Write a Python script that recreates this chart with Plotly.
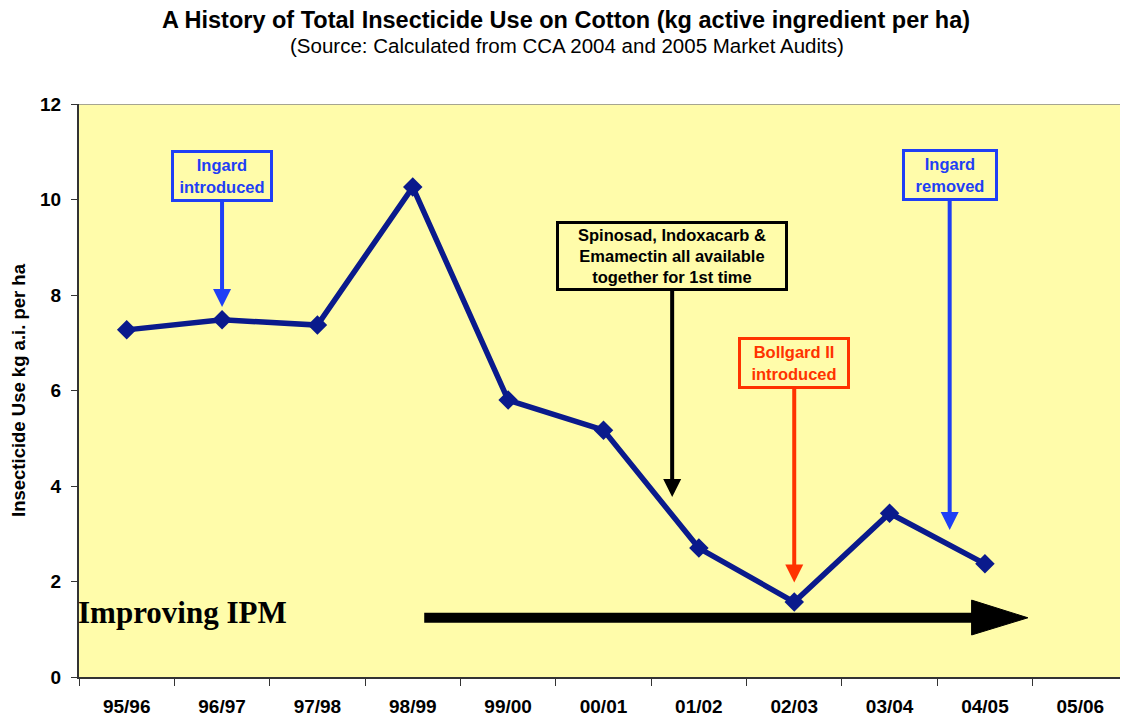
import plotly.graph_objects as go

# seasons and total insecticide use (kg a.i. per ha)
seasons = ['95/96', '96/97', '97/98', '98/99', '99/00', '00/01',
           '01/02', '02/03', '03/04', '04/05', '05/06']
use_kg_ha = [7.27, 7.48, 7.37, 10.26, 5.80, 5.17, 2.70, 1.57, 3.43, 2.37]

YELLOW = '#FFFCAA'
NAVY = '#0A1A8C'
BLUE = '#1F3FF5'
RED = '#FF3300'
FONT = 'Liberation Sans, Arial, sans-serif'

# page body has an 8px margin, so the figure is drawn 8px smaller
W, H = 1120, 711

fig = go.Figure()

fig.add_trace(go.Scatter(
    x=seasons[:len(use_kg_ha)], y=use_kg_ha,
    mode='lines+markers',
    line=dict(color=NAVY, width=5.5),
    marker=dict(symbol='diamond', size=15, color=NAVY),
    showlegend=False,
))

# event call-outs: (text, x index, box centre y, arrow tip y, colour, width, height)
callouts = [
    ('<b>Ingard<br>introduced</b>', 1.0, 10.49, 7.75, BLUE, 94, 44),
    ('<b>Spinosad, Indoxacarb &amp;<br>Emamectin all available<br>together for 1st time</b>',
     5.72, 8.82, 3.77, 'black', 224, 62),
    ('<b>Bollgard II<br>introduced</b>', 7.0, 6.57, 1.98, RED, 104, 44),
    ('<b>Ingard<br>removed</b>', 8.63, 10.51, 3.08, BLUE, 88, 44),
]
for text, xi, yb, yt, col, w, h in callouts:
    fig.add_annotation(
        x=xi, y=yt, ax=xi, ay=yb, xref='x', yref='y', axref='x', ayref='y',
        text=text, showarrow=True, arrowhead=2, arrowsize=0.9, arrowwidth=4,
        arrowcolor=col, font=dict(family=FONT, size=16.5, color=col),
        bgcolor=YELLOW, bordercolor=col, borderwidth=3, borderpad=1,
        width=w, height=h, align='center',
    )

# "Improving IPM" arrow
fig.add_shape(type='line', x0=3.12, x1=8.9, y0=1.24, y1=1.24,
              line=dict(color='black', width=10))
fig.add_shape(type='path', path='M 8.86 1.61 L 9.45 1.24 L 8.86 0.88 Z',
              fillcolor='black', line=dict(color='black', width=1))
fig.add_annotation(x=0, y=1.36, xref='paper', yref='y', xanchor='left', yanchor='middle',
                   xshift=-3, text='<b>Improving IPM</b>', showarrow=False,
                   font=dict(family='Liberation Serif, Times New Roman, serif', size=31,
                             color='black'))

# plot-area top border
fig.add_shape(type='line', xref='paper', x0=0, x1=1, yref='y', y0=12, y1=12,
              line=dict(color='#888888', width=1.5))

fig.add_annotation(x=(567 - 79) / 1049, y=1 + (104 - 45) / 573, xref='paper', yref='paper',
                   xanchor='center', yanchor='middle', showarrow=False,
                   text='(Source: Calculated from CCA 2004 and 2005 Market Audits)',
                   font=dict(family=FONT, size=20.5, color='black'))

fig.update_layout(
    width=W, height=H,
    margin=dict(l=71, r=0, t=96, b=42),
    paper_bgcolor='white', plot_bgcolor=YELLOW,
    title=dict(text='<b>A History of Total Insecticide Use on Cotton (kg active ingredient per ha)</b>',
               x=(566 - 8) / W, xref='container', xanchor='center',
               y=1 - 12 / H, yref='container', yanchor='middle',
               font=dict(family=FONT, size=23.5, color='black')),
    font=dict(family=FONT, color='black'),
)

fig.update_xaxes(
    type='category', categoryorder='array', categoryarray=seasons,
    range=[-0.5, 10.5], tickson='boundaries', ticks='outside', ticklen=7,
    tickcolor='#333333', showline=True, linecolor='#333333', linewidth=2,
    showgrid=False, zeroline=False, ticklabelstandoff=11, automargin=False,
    tickfont=dict(family=FONT, size=19, color='black', weight='bold'),
)
fig.update_yaxes(
    range=[0, 12], tickvals=[0, 2, 4, 6, 8, 10, 12], ticks='outside', ticklen=6,
    tickcolor='#333333', showline=True, linecolor='#333333', linewidth=2,
    showgrid=False, zeroline=False, ticklabelstandoff=6, automargin=False,
    tickfont=dict(family=FONT, size=19, color='black', weight='bold'),
    title=dict(text='<b>Insecticide Use kg a.i. per ha</b>', standoff=12,
               font=dict(family=FONT, size=18.5, color='black')),
)

fig.write_html('out.html')
